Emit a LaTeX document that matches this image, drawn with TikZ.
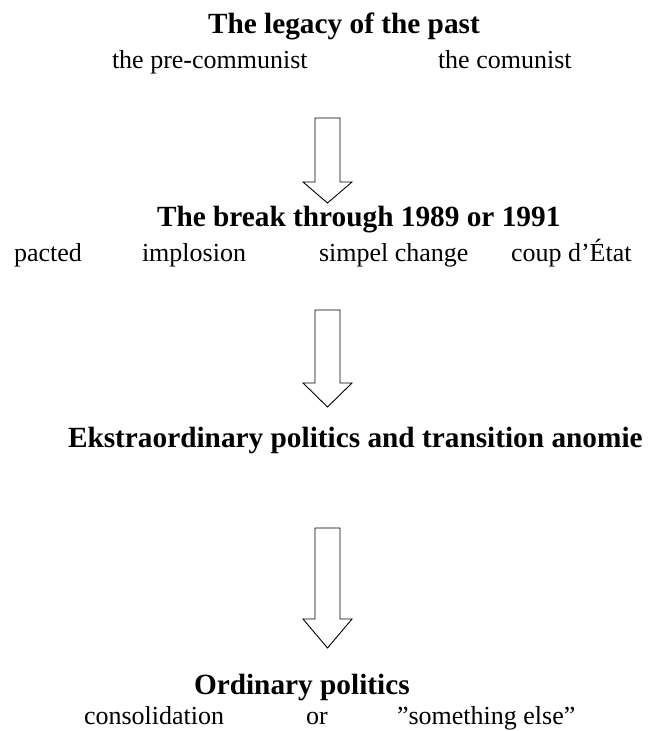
\documentclass[tikz,border=0pt]{standalone}
\usepackage{fontspec}
\setmainfont{Liberation Serif}
\begin{document}
\begin{tikzpicture}[x=1pt,y=-1pt,
  every node/.style={inner sep=0pt,outer sep=0pt,anchor=base west},
  headtext/.style={font=\fontsize{29.3}{30}\selectfont\bfseries},
  subtext/.style={font=\fontsize{26}{27}\selectfont},
  blockarrow/.style={draw=black,line width=0.9pt,line join=miter}]
\useasboundingbox (0,0) rectangle (650,731);
% level 1
\node[headtext] (h1) at (208,33) {The legacy of the past};
\node[subtext] (s11) at (112,68) {the pre-communist};
\node[subtext] (s12) at (438,68) {the comunist};
% level 2
\node[headtext] (h2) at (157,226) {The break through 1989 or 1991};
\node[subtext] (s21) at (14,261) {pacted};
\node[subtext] (s22) at (142,261) {implosion};
\node[subtext] (s23) at (319,261) {simpel change};
\node[subtext] (s24) at (511,261) {coup d’État};
% level 3
\node[headtext] (h3) at (68,447) {Ekstraordinary politics and transition anomie};
% level 4
\node[headtext] (h4) at (194,694) {Ordinary politics};
\node[subtext] (s41) at (84,724) {consolidation};
\node[subtext] (s42) at (306,724) {or};
\node[subtext] (s43) at (397,724) {”something else”};
% block arrows
\draw[blockarrow] (315,118) -- (340,118) -- (340,182) -- (352,182) -- (327.5,203) -- (303,182) -- (315,182) -- cycle;
\draw[blockarrow] (315,310) -- (340,310) -- (340,383) -- (352,383) -- (327.5,407) -- (303,383) -- (315,383) -- cycle;
\draw[blockarrow] (315,528) -- (340,528) -- (340,619) -- (352,619) -- (327.5,648) -- (303,619) -- (315,619) -- cycle;
\end{tikzpicture}
\end{document}
